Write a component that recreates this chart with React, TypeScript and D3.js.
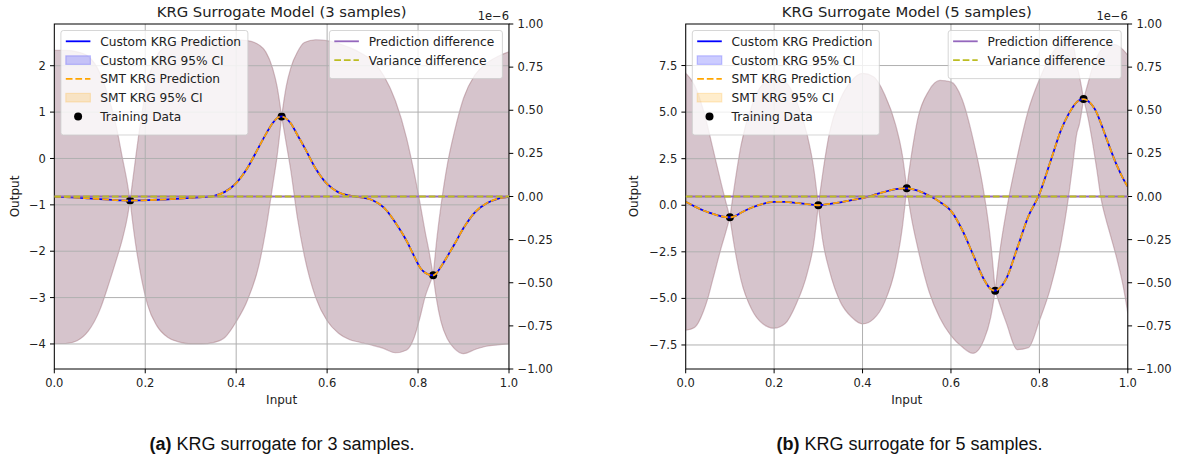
import React from 'react';
import * as d3 from 'd3';

// ---------- tick labels / legend labels ----------
const xTicks = [0, 0.2, 0.4, 0.6, 0.8, 1.0];
const twinTicks = [-1, -0.75, -0.5, -0.25, 0, 0.25, 0.5, 0.75, 1];
const yTicks3 = [-4, -3, -2, -1, 0, 1, 2];
const yTicks5 = [-7.5, -5, -2.5, 0, 2.5, 5, 7.5];
const mainLegendLabels = ['Custom KRG Prediction', 'Custom KRG 95% CI', 'SMT KRG Prediction', 'SMT KRG 95% CI', 'Training Data'];
const diffLegendLabels = ['Prediction difference', 'Variance difference'];

// ---------- 3-sample model ----------
const x3 = [0, 0.025, 0.05, 0.075, 0.1, 0.12, 0.135, 0.15, 0.16, 0.1667, 0.175, 0.19, 0.205, 0.225, 0.25, 0.275, 0.3, 0.325, 0.35, 0.375, 0.4, 0.425, 0.45, 0.465, 0.48, 0.49, 0.5, 0.51, 0.52, 0.535, 0.55, 0.575, 0.6, 0.625, 0.65, 0.675, 0.7, 0.725, 0.75, 0.775, 0.79, 0.805, 0.815, 0.825, 0.8333, 0.84, 0.85, 0.865, 0.88, 0.9, 0.925, 0.95, 0.975, 1];
const pred3 = [-0.83, -0.835, -0.845, -0.86, -0.875, -0.888, -0.897, -0.904, -0.907, -0.907, -0.906, -0.903, -0.898, -0.89, -0.88, -0.865, -0.85, -0.835, -0.81, -0.72, -0.53, -0.2, 0.25, 0.52, 0.76, 0.87, 0.907, 0.86, 0.76, 0.5, 0.24, -0.22, -0.55, -0.73, -0.8, -0.84, -0.9, -1.06, -1.38, -1.78, -2.08, -2.36, -2.46, -2.51, -2.52, -2.48, -2.34, -2.1, -1.85, -1.5, -1.16, -0.97, -0.87, -0.83];
const upper3 = [2.33, 2.33, 2.3, 2.2, 1.85, 1.3, 0.75, 0.0, -0.5, -0.907, -0.28, 0.8, 1.65, 2.2, 2.45, 2.52, 2.54, 2.55, 2.56, 2.56, 2.56, 2.54, 2.45, 2.3, 1.95, 1.55, 0.907, 1.55, 1.95, 2.3, 2.5, 2.56, 2.54, 2.48, 2.39, 2.27, 2.1, 1.78, 1.25, 0.43, -0.24, -1.0, -1.55, -2.05, -2.52, -1.85, -1.05, -0.1, 0.58, 1.3, 1.8, 2.05, 2.2, 2.3];
const lower3 = [-3.99, -3.99, -3.93, -3.72, -3.27, -2.7, -2.23, -1.73, -1.3, -0.907, -1.58, -2.5, -3.15, -3.6, -3.86, -3.96, -4.0, -4.0, -3.97, -3.86, -3.52, -3.05, -2.3, -1.55, -0.6, 0.05, 0.907, 0.33, -0.25, -1.3, -2.1, -3.0, -3.5, -3.77, -3.91, -3.97, -4.03, -4.1, -4.19, -4.13, -3.9, -3.4, -3.0, -2.72, -2.52, -3.0, -3.5, -3.9, -4.1, -4.21, -4.12, -4.05, -4.02, -4.0];
const trainX3 = [0.1667, 0.5, 0.8333];
const trainY3 = [-0.907, 0.907, -2.52];
const diffX3 = [0, 1];
const predDiff3 = [0, 0];
const varDiff3 = [0, 0];

// ---------- 5-sample model ----------
const x5 = [0, 0.02, 0.04, 0.05, 0.06, 0.07, 0.08, 0.09, 0.1, 0.11, 0.125, 0.15, 0.175, 0.2, 0.225, 0.25, 0.275, 0.29, 0.3, 0.31, 0.325, 0.35, 0.375, 0.4, 0.425, 0.45, 0.475, 0.49, 0.5, 0.51, 0.525, 0.55, 0.575, 0.6, 0.625, 0.65, 0.675, 0.69, 0.7, 0.71, 0.725, 0.75, 0.775, 0.8, 0.825, 0.85, 0.865, 0.875, 0.885, 0.89, 0.9, 0.91, 0.92, 0.93, 0.94, 0.95, 0.96, 0.975, 0.99, 1];
const pred5 = [0.19, -0.06, -0.28, -0.37, -0.45, -0.53, -0.59, -0.63, -0.65, -0.6, -0.4, -0.12, 0.08, 0.18, 0.18, 0.13, 0.06, 0.02, 0.0, 0.02, 0.07, 0.16, 0.28, 0.38, 0.55, 0.72, 0.87, 0.9, 0.91, 0.88, 0.78, 0.52, 0.18, -0.3, -1.3, -2.65, -4.0, -4.5, -4.59, -4.45, -3.95, -2.3, -0.6, 0.6, 2.35, 4.1, 4.85, 5.25, 5.55, 5.63, 5.7, 5.6, 5.35, 4.95, 4.35, 3.7, 3.05, 2.15, 1.4, 0.99];
const upper5 = [7.09, 6.44, 5.1, 4.2, 3.2, 2.2, 1.2, 0.25, -0.65, 1.0, 3.2, 5.38, 6.53, 6.85, 6.63, 5.63, 3.76, 1.92, 0.0, 1.72, 3.87, 5.7, 6.68, 7.08, 6.9, 5.95, 4.3, 2.7, 0.91, 2.6, 4.65, 6.15, 6.7, 6.62, 5.7, 3.55, 0.6, -2.0, -4.59, -2.6, -0.35, 2.6, 5.1, 6.75, 8.0, 8.75, 8.88, 8.75, 7.5, 7.0, 5.7, 6.55, 7.4, 7.95, 8.35, 8.55, 8.66, 8.6, 8.33, 8.06];
const lower5 = [-6.71, -6.56, -5.7, -5.0, -4.1, -3.2, -2.3, -1.5, -0.65, -2.2, -4.0, -5.62, -6.37, -6.6, -6.35, -5.3, -3.64, -2.0, 0.0, -1.9, -3.5, -5.2, -6.0, -6.37, -6.1, -5.2, -3.3, -1.2, 0.91, -0.6, -2.3, -4.6, -6.05, -7.0, -7.6, -7.95, -7.2, -6.0, -4.59, -5.3, -6.3, -7.75, -7.65, -6.2, -4.45, -1.9, 0.3, 2.1, 3.9, 4.3, 5.7, 4.7, 3.4, 1.9, 0.3, -0.7, -1.55, -2.85, -4.4, -5.8];
const trainX5 = [0.1, 0.3, 0.5, 0.7, 0.9];
const trainY5 = [-0.65, 0.0, 0.91, -4.59, 5.7];
const diffX5 = [0, 1];
const predDiff5 = [0, 0];
const varDiff5 = [0, 0];

// ---------- styling ----------
const TOP = 24;
const BOTTOM = 369;
const FONT = "'DejaVu Sans', sans-serif";
const BLUE = '#0000ff';
const ORANGE = '#ffa500';
const PURPLE = '#9467bd';
const OLIVE = '#bcbd22';
const GRID = '#b0b0b0';
const DASH = '6.7 2.9';
const LW = 1.8;

function Legend({ x, y, w, entries }: any) {
  const h = 11.5 + entries.length * 18.8 - 1;
  return (
    <g>
      <rect x={x} y={y} width={w} height={h} rx={2.5} fill="#fff" fillOpacity={0.8} stroke="#cccccc" strokeOpacity={0.8} strokeWidth={1} />
      {entries.map((e: any, i: number) => {
        const cy = y + 10.8 + i * 18.8;
        const hx0 = x + 4.9;
        const hx1 = x + 29.5;
        let handle: any = null;
        if (e.kind === 'line') {
          handle = <line x1={hx0} x2={hx1} y1={cy} y2={cy} stroke={e.color} strokeWidth={LW} strokeDasharray={e.dash || undefined} />;
        } else if (e.kind === 'patch') {
          handle = <rect x={hx0} y={cy - 4.3} width={hx1 - hx0} height={8.6} fill={e.color} fillOpacity={0.2} stroke={e.color} strokeOpacity={0.2} strokeWidth={1.2} />;
        } else {
          handle = <circle cx={(hx0 + hx1) / 2} cy={cy} r={4} fill="#000" />;
        }
        return (
          <g key={i}>
            {handle}
            <text x={x + 39.3} y={cy + 4.4} fontFamily={FONT} fontSize={12.2} fill="#222">{e.label}</text>
          </g>
        );
      })}
    </g>
  );
}

function Panel(p: any) {
  const { id, ox0, ox1, yDomain, yTicks, yFmt, title, xs, pred, upper, lower, trainX, trainY, diffX, predDiff, varDiff, ylabelX, capX, capLetter, capText } = p;
  const x = d3.scaleLinear().domain([0, 1]).range([ox0, ox1]);
  const y = d3.scaleLinear().domain(yDomain).range([BOTTOM, TOP]);
  const y2 = d3.scaleLinear().domain([-1e-6, 1e-6]).range([BOTTOM, TOP]);
  const fmtX = d3.format('.1f');
  const fmtY = d3.format(yFmt);
  const fmtT = d3.format('.2f');

  const pinch = xs.map((_: any, i: number) => i).filter((i: number) => i === 0 || i === xs.length - 1 || Math.abs(upper[i] - lower[i]) < 1e-9);
  const area = d3.area<number>().x((i) => x(xs[i])).y0((i) => y(lower[i])).y1((i) => y(upper[i])).curve(d3.curveMonotoneX);
  let band = '';
  for (let k = 0; k < pinch.length - 1; k++) band += area(d3.range(pinch[k], pinch[k + 1] + 1));

  const line = d3.line<number>().x((i) => x(xs[i])).y((i) => y(pred[i])).curve(d3.curveMonotoneX);
  const predPath = line(d3.range(xs.length)) || '';
  const dline = d3.line<number>().x((d, i) => x(diffX[i])).y((d) => y2(d));
  const predDiffPath = dline(predDiff) || '';
  const varDiffPath = dline(varDiff) || '';

  const cx = (ox0 + ox1) / 2;
  const clip = `clip-${id}`;
  const leg1 = [
    { kind: 'line', color: BLUE, label: mainLegendLabels[0] },
    { kind: 'patch', color: BLUE, label: mainLegendLabels[1] },
    { kind: 'line', color: ORANGE, dash: DASH, label: mainLegendLabels[2] },
    { kind: 'patch', color: ORANGE, label: mainLegendLabels[3] },
    { kind: 'dot', label: mainLegendLabels[4] },
  ];
  const leg2 = [
    { kind: 'line', color: PURPLE, label: diffLegendLabels[0] },
    { kind: 'line', color: OLIVE, dash: DASH, label: diffLegendLabels[1] },
  ];

  return (
    <g>
      <defs>
        <clipPath id={clip}>
          <rect x={ox0} y={TOP} width={ox1 - ox0} height={BOTTOM - TOP} />
        </clipPath>
      </defs>
      <g clipPath={`url(#${clip})`}>
        <path d={band} fill={BLUE} fillOpacity={0.2} stroke={BLUE} strokeOpacity={0.2} strokeWidth={1.2} />
        <path d={band} fill={ORANGE} fillOpacity={0.2} stroke={ORANGE} strokeOpacity={0.2} strokeWidth={1.2} />
        {trainX.map((tx: number, i: number) => (
          <circle key={i} cx={x(tx)} cy={y(trainY[i])} r={4} fill="#000" />
        ))}
        {xTicks.map((t) => (
          <line key={'gx' + t} x1={x(t)} x2={x(t)} y1={TOP} y2={BOTTOM} stroke={GRID} strokeWidth={1} />
        ))}
        {yTicks.map((t: number) => (
          <line key={'gy' + t} x1={ox0} x2={ox1} y1={y(t)} y2={y(t)} stroke={GRID} strokeWidth={1} />
        ))}
        <path d={predPath} fill="none" stroke={BLUE} strokeWidth={LW} />
        <path d={predPath} fill="none" stroke={ORANGE} strokeWidth={LW} strokeDasharray={DASH} />
      </g>
      <rect x={ox0} y={TOP} width={ox1 - ox0} height={BOTTOM - TOP} fill="none" stroke="#000" strokeWidth={1} />
      {xTicks.map((t) => (
        <g key={'tx' + t}>
          <line x1={x(t)} x2={x(t)} y1={BOTTOM} y2={BOTTOM + 4.3} stroke="#000" strokeWidth={1} />
          <text x={x(t)} y={387} textAnchor="middle" fontFamily={FONT} fontSize={11.5} fill="#222">{fmtX(t)}</text>
        </g>
      ))}
      {yTicks.map((t: number) => (
        <g key={'ty' + t}>
          <line x1={ox0 - 4.3} x2={ox0} y1={y(t)} y2={y(t)} stroke="#000" strokeWidth={1} />
          <text x={ox0 - 8.4} y={y(t) + 4.1} textAnchor="end" fontFamily={FONT} fontSize={11.5} fill="#222">{fmtY(t)}</text>
        </g>
      ))}
      {twinTicks.map((t) => (
        <g key={'tt' + t}>
          <line x1={ox1} x2={ox1 + 4.3} y1={y2(t * 1e-6)} y2={y2(t * 1e-6)} stroke="#000" strokeWidth={1} />
          <text x={ox1 + 8.6} y={y2(t * 1e-6) + 4.1} textAnchor="start" fontFamily={FONT} fontSize={11.5} fill="#222">{fmtT(t)}</text>
        </g>
      ))}
      <text x={ox1} y={19.5} textAnchor="end" fontFamily={FONT} fontSize={11.5} fill="#222">1e−6</text>
      <text x={cx} y={17} textAnchor="middle" fontFamily={FONT} fontSize={14.8} fill="#222">{title}</text>
      <text x={cx} y={403.5} textAnchor="middle" fontFamily={FONT} fontSize={12} fill="#222">Input</text>
      <text transform={`translate(${ylabelX},${(TOP + BOTTOM) / 2}) rotate(-90)`} textAnchor="middle" fontFamily={FONT} fontSize={12} fill="#222">Output</text>
      <Legend x={ox0 + 6.6} y={30.5} w={187} entries={leg1} />
      <g clipPath={`url(#${clip})`}>
        <path d={predDiffPath} fill="none" stroke={PURPLE} strokeWidth={LW} />
        <path d={varDiffPath} fill="none" stroke={OLIVE} strokeWidth={LW} strokeDasharray={DASH} />
      </g>
      <Legend x={ox1 - 6.6 - 173} y={30.5} w={173} entries={leg2} />
      <text x={capX} y={450} textAnchor="middle" fontFamily="'Liberation Sans', Arial, sans-serif" fontSize={18} fill="#111">
        <tspan fontWeight="bold">{capLetter}</tspan>
        <tspan>{capText}</tspan>
      </text>
    </g>
  );
}

export default function App() {
  return (
    <svg width={1183} height={461} style={{ position: 'absolute', left: 0, top: 0, background: '#fff' }}>
      <rect x={0} y={0} width={1183} height={461} fill="#fff" />
      <Panel id="a" ox0={54.3} ox1={509} yDomain={[-4.54, 2.9]} yTicks={yTicks3} yFmt="d" title="KRG Surrogate Model (3 samples)"
        xs={x3} pred={pred3} upper={upper3} lower={lower3} trainX={trainX3} trainY={trainY3}
        diffX={diffX3} predDiff={predDiff3} varDiff={varDiff3} ylabelX={19} capX={282} capLetter="(a)" capText=" KRG surrogate for 3 samples." />
      <Panel id="b" ox0={685.7} ox1={1127.8} yDomain={[-8.79, 9.73]} yTicks={yTicks5} yFmt=".1f" title="KRG Surrogate Model (5 samples)"
        xs={x5} pred={pred5} upper={upper5} lower={lower5} trainX={trainX5} trainY={trainY5}
        diffX={diffX5} predDiff={predDiff5} varDiff={varDiff5} ylabelX={638} capX={909.5} capLetter="(b)" capText=" KRG surrogate for 5 samples." />
    </svg>
  );
}
